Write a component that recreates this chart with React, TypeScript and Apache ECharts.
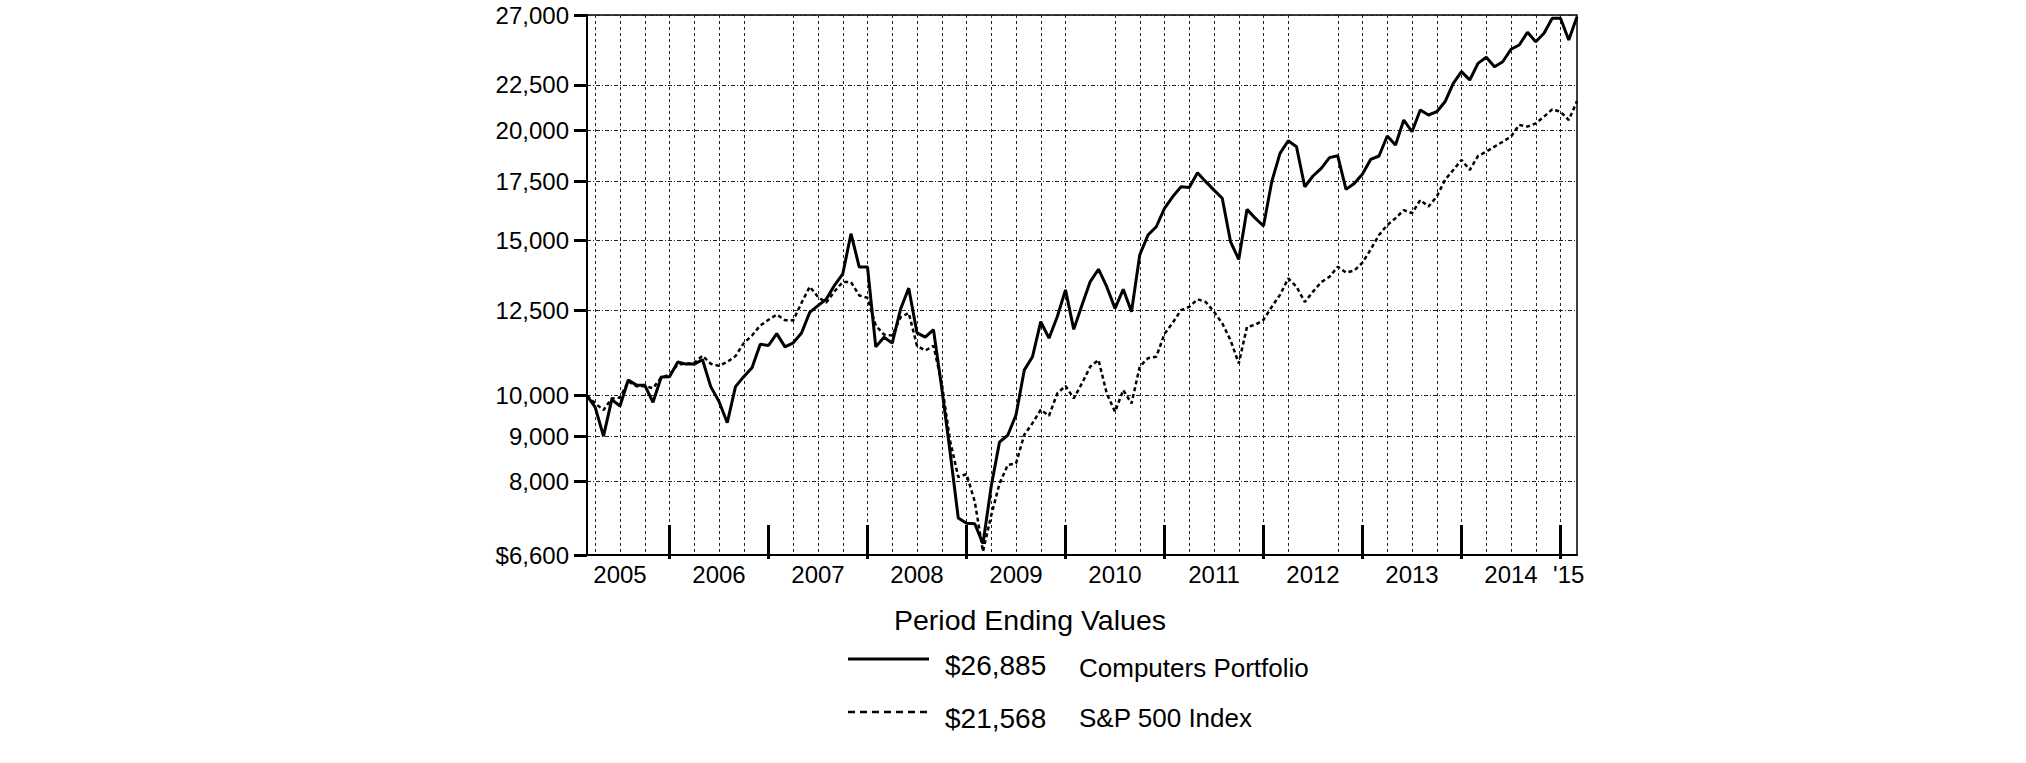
import React, { useEffect, useRef } from "react";
import * as echarts from "echarts";

// Monthly period-end values, Feb 2005 .. Feb 2015
const START_YEAR = 2005;
const START_MONTH = 2;

const computers: number[] = [
  10000, 9700, 9000, 9900, 9735, 10420, 10280, 10280, 9830, 10500,
  10510, 10920, 10860, 10860, 10985, 10240, 9850, 9320, 10240, 10510,
  10760, 11440, 11400, 11760, 11360, 11480, 11780, 12430, 12650, 12860,
  13340, 13740, 15260, 13990, 13990, 11360, 11650, 11470, 12530, 13240,
  11780, 11650, 11880, 10200, 8650, 7270, 7170, 7160, 6800, 7900,
  8860, 9020, 9510, 10690, 11070, 12130, 11620, 12290, 13180, 11890,
  12670, 13470, 13910, 13290, 12560, 13200, 12450, 14440, 15210, 15540,
  16300, 16810, 17250, 17220, 17890, 17480, 17100, 16740, 14950, 14270,
  16260, 15890, 15570, 17480, 18820, 19450, 19150, 17250, 17740, 18100,
  18610, 18700, 17130, 17400, 17830, 18530, 18690, 19690, 19230, 20530,
  19910, 21070, 20800, 20980, 21530, 22590, 23290, 22790, 23800, 24180,
  23590, 23900, 24690, 24970, 25810, 25180, 25750, 26770, 26770, 25300,
  26885,
];

const sp500: number[] = [
  10000, 9800, 9635, 9930, 9950, 10380, 10250, 10250, 10200, 10490,
  10560, 10850, 10870, 10900, 11100, 10870, 10810, 10920, 11090, 11470,
  11700, 12010, 12190, 12360, 12180, 12170, 12740, 13290, 12940, 12750,
  13130, 13450, 13450, 12990, 12910, 12010, 11730, 11700, 12270, 12410,
  11390, 11250, 11390, 10330, 8900, 8090, 8150, 7590, 6660, 7320,
  7950, 8350, 8380, 9030, 9310, 9640, 9490, 10060, 10260, 9930,
  10330, 10790, 10980, 10060, 9590, 10150, 9800, 10790, 11030, 11070,
  11750, 12100, 12500, 12610, 12860, 12770, 12450, 12080, 11560, 10880,
  11970, 12030, 12190, 12610, 13010, 13580, 13290, 12770, 13120, 13450,
  13640, 14000, 13790, 13860, 14150, 14650, 15210, 15610, 15890, 16230,
  16100, 16660, 16380, 16810, 17560, 18020, 18500, 18020, 18690, 18900,
  19150, 19400, 19660, 20270, 20180, 20350, 20710, 21110, 20980, 20530,
  21568,
];

const yTickValues: number[] = [6600, 8000, 9000, 10000, 12500, 15000, 17500, 20000, 22500, 27000];
const missingGridMonths: string[] = ["2006-12", "2010-03", "2012-06"];
const seriesNames: string[] = ["Computers Portfolio", "S&P 500 Index"];
const legendTitle = "Period Ending Values";

const months: string[] = computers.map((_, i) => {
  const m0 = START_MONTH - 1 + i;
  const y = START_YEAR + Math.floor(m0 / 12);
  const m = (m0 % 12) + 1;
  return `${y}-${m < 10 ? "0" + m : m}`;
});
const lastMonth = months[months.length - 1];
const shortYearMonth = `${lastMonth.slice(0, 4)}-01`;

const FONT = '"Liberation Sans", Arial, Helvetica, sans-serif';
const fmt = (v: number) => v.toLocaleString("en-US");

export default function App() {
  const ref = useRef<HTMLDivElement>(null);
  useEffect(() => {
    if (!ref.current) return;
    const chart = echarts.init(ref.current, undefined, { renderer: "svg" });
    const tallTick = (_i: number, v: string) => v.endsWith("-12");
    chart.setOption({
      animation: false,
      backgroundColor: "#ffffff",
      textStyle: { fontFamily: FONT },
      grid: {
        left: 587,
        right: 449,
        top: 15,
        bottom: 208,
        show: true,
        borderColor: "#000",
        borderWidth: 1.5,
        backgroundColor: "transparent",
      },
      xAxis: [
        {
          type: "category",
          data: months,
          boundaryGap: false,
          axisLine: { show: true, lineStyle: { color: "#000", width: 2 } },
          axisTick: {
            show: true,
            inside: true,
            length: 30,
            interval: tallTick,
            lineStyle: { color: "#000", width: 3 },
          },
          axisLabel: {
            show: true,
            interval: (_i: number, v: string) => v.endsWith("-06") || v === shortYearMonth,
            formatter: (v: string) =>
              v === shortYearMonth ? "'" + v.slice(2, 4) : v.endsWith("-06") ? v.slice(0, 4) : "",
            color: "#000",
            fontSize: 24,
            fontFamily: FONT,
            margin: 7,
          },
          splitLine: {
            show: true,
            interval: (_i: number, v: string) => {
              const m = parseInt(v.slice(5), 10);
              return m % 3 === 0 && !missingGridMonths.includes(v);
            },
            lineStyle: { color: "#222", width: 1, type: [3, 3] },
          },
        },
        {
          type: "category",
          data: months,
          boundaryGap: false,
          position: "bottom",
          axisLine: { show: false },
          axisTick: {
            show: true,
            inside: false,
            length: 4,
            interval: tallTick,
            lineStyle: { color: "#000", width: 3 },
          },
          axisLabel: { show: false },
          splitLine: { show: false },
        },
      ],
      yAxis: {
        type: "log",
        logBase: 10,
        min: 6600,
        max: 27000,
        axisLine: { show: true, lineStyle: { color: "#000", width: 2 } },
        axisTick: {
          show: true,
          inside: false,
          length: 13,
          customValues: yTickValues,
          lineStyle: { color: "#000", width: 3 },
        },
        axisLabel: {
          show: true,
          customValues: yTickValues,
          formatter: (v: number) => (v === yTickValues[0] ? "$" : "") + fmt(Math.round(v)),
          color: "#000",
          fontSize: 24,
          fontFamily: FONT,
          margin: 18,
        },
        splitLine: {
          show: true,
          lineStyle: { color: "#222", width: 1, type: [4, 2, 1, 2] },
        },
        minorTick: { show: false },
        minorSplitLine: { show: false },
      },
      series: [
        {
          name: seriesNames[1],
          type: "line",
          data: sp500,
          symbol: "none",
          xAxisIndex: 0,
          lineStyle: { color: "#000", width: 2.5, type: [4, 3] },
          z: 3,
        },
        {
          name: seriesNames[0],
          type: "line",
          data: computers,
          symbol: "none",
          xAxisIndex: 0,
          lineStyle: { color: "#000", width: 3 },
          z: 4,
        },
      ],
      graphic: [
        {
          type: "text",
          x: 1030,
          y: 620,
          style: {
            text: legendTitle,
            font: `28.5px ${FONT}`,
            fill: "#000",
            align: "center",
            verticalAlign: "middle",
          },
        },
        {
          type: "line",
          shape: { x1: 848, y1: 659, x2: 929, y2: 659 },
          style: { stroke: "#000", lineWidth: 3 },
        },
        {
          type: "text",
          x: 945,
          y: 665,
          style: {
            text: "$" + fmt(computers[computers.length - 1]),
            font: `28px ${FONT}`,
            fill: "#000",
            align: "left",
            verticalAlign: "middle",
          },
        },
        {
          type: "text",
          x: 1079,
          y: 668,
          style: {
            text: seriesNames[0],
            font: `26px ${FONT}`,
            fill: "#000",
            align: "left",
            verticalAlign: "middle",
          },
        },
        {
          type: "line",
          shape: { x1: 848, y1: 712, x2: 929, y2: 712 },
          style: { stroke: "#000", lineWidth: 2.5, lineDash: [7, 5] },
        },
        {
          type: "text",
          x: 945,
          y: 718,
          style: {
            text: "$" + fmt(sp500[sp500.length - 1]),
            font: `28px ${FONT}`,
            fill: "#000",
            align: "left",
            verticalAlign: "middle",
          },
        },
        {
          type: "text",
          x: 1079,
          y: 718,
          style: {
            text: seriesNames[1],
            font: `26px ${FONT}`,
            fill: "#000",
            align: "left",
            verticalAlign: "middle",
          },
        },
      ],
    });
    return () => chart.dispose();
  }, []);
  return (
    <div
      ref={ref}
      style={{ position: "absolute", left: 0, top: 0, width: 2026, height: 763, background: "#fff" }}
    />
  );
}
